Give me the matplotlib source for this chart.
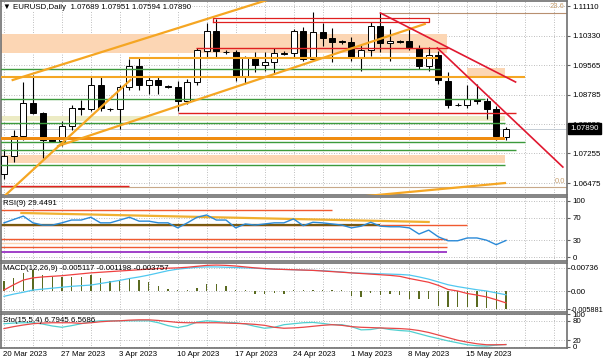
import numpy as np
import matplotlib.pyplot as plt
from matplotlib.transforms import blended_transform_factory

plt.rcParams['font.family'] = ['Liberation Sans', 'DejaVu Sans']
plt.rcParams['font.size'] = 5.7

# daily bars (broker shows Sunday bars too), 20 Mar .. 19 May 2023
opens = [1.0672, 1.0719, 1.0770, 1.0857, 1.0830, 1.0762, 1.0758, 1.0798, 1.0844, 1.0841,
         1.0905, 1.0842, 1.0840, 1.0900, 1.0955, 1.0905, 1.0918, 1.0901, 1.0900, 1.0862,
         1.0913, 1.0993, 1.1046, 1.0991, 1.0990, 1.0926, 1.0974, 1.0956, 1.0964, 1.0986,
         1.0987, 1.1046, 1.0973, 1.1043, 1.1028, 1.1019, 1.1016, 1.0975, 1.0997, 1.1059,
         1.1013, 1.1020, 1.1020, 1.1000, 1.0955, 1.0983, 1.0915, 1.0852, 1.0853, 1.0868,
         1.0862, 1.0842, 1.07689]
highs = [1.0737, 1.0787, 1.0913, 1.0930, 1.0834, 1.0766, 1.0810, 1.0852, 1.0866, 1.0926,
         1.0926, 1.0845, 1.0905, 1.0973, 1.0976, 1.0928, 1.0924, 1.0904, 1.0915, 1.0920,
         1.1002, 1.1067, 1.1076, 1.0995, 1.0996, 1.0980, 1.0990, 1.0990, 1.1000, 1.0992,
         1.1050, 1.1055, 1.1095, 1.1067, 1.1054, 1.1022, 1.1030, 1.1010, 1.1069, 1.1092,
         1.1051, 1.1023, 1.1056, 1.1010, 1.1004, 1.0993, 1.0937, 1.0856, 1.0904, 1.0906,
         1.0870, 1.0850, 1.07951]
lows = [1.0657, 1.0702, 1.0761, 1.0829, 1.0714, 1.0755, 1.0745, 1.0786, 1.0825, 1.0836,
        1.0835, 1.0836, 1.0788, 1.0890, 1.0892, 1.0880, 1.0880, 1.0896, 1.0836, 1.0855,
        1.0905, 1.0978, 1.0978, 1.0985, 1.0914, 1.0910, 1.0938, 1.0942, 1.0936, 1.0982,
        1.0975, 1.0966, 1.0966, 1.1005, 1.0965, 1.1012, 1.0967, 1.0942, 1.0980, 1.0990,
        1.0966, 1.1015, 1.0996, 1.0945, 1.0940, 1.0906, 1.0845, 1.0848, 1.0845, 1.0855,
        1.0815, 1.0760, 1.07594]
closes = [1.0719, 1.0770, 1.0857, 1.0830, 1.0760, 1.0758, 1.0798, 1.0844, 1.0841, 1.0905,
          1.0845, 1.0840, 1.0900, 1.0955, 1.0905, 1.0918, 1.0903, 1.0900, 1.0862, 1.0913,
          1.0997, 1.1046, 1.0993, 1.0990, 1.0926, 1.0974, 1.0956, 1.0964, 1.0987, 1.0988,
          1.1046, 1.0973, 1.1043, 1.1028, 1.1017, 1.1016, 1.0975, 1.0997, 1.1059, 1.1013,
          1.1020, 1.1018, 1.1000, 1.0955, 1.0983, 1.0918, 1.0852, 1.0853, 1.0868, 1.0862,
          1.0842, 1.0770, 1.07890]

rsi = [61, 67, 73, 61, 57, 57, 61, 66, 66, 71, 61, 61, 66, 71, 64, 64, 61, 61, 52, 61,
       71, 75, 66, 66, 52, 59, 57, 59, 61, 61, 68, 56, 62, 61, 59, 57, 52, 55, 62, 55,
       54, 54, 52, 41, 48, 36, 29, 29, 34, 34, 30, 22, 29.4491]

macd_hist = [0.0032, 0.0042, 0.0058, 0.0067, 0.0051, 0.0045, 0.0045, 0.0045, 0.0045, 0.0051,
             0.0042, 0.0032, 0.0035, 0.0042, 0.0035, 0.0029, 0.0016, 0.0006, 0.0002, 0.0004,
             0.0010, 0.0021, 0.0021, 0.0016, 0.0003, 0.0002, -0.0009, -0.0008, -0.0006, -0.0010,
             0.0003, 0.0003, 0.0003, 0.0003, 0.0003, 0.0003, -0.0016, -0.0018, -0.0005, -0.0012,
             -0.0010, -0.0012, -0.0024, -0.0027, -0.0027, -0.0048, -0.0050, -0.0050, -0.0050, -0.0050,
             -0.0053, -0.0056, -0.0059]
macd_fast = [-0.0017, -0.0010, -0.0004, 0.0003, 0.0006, 0.0009, 0.0012, 0.0015, 0.0017, 0.0019,
             0.0024, 0.0029, 0.0034, 0.0040, 0.0045, 0.0051, 0.0058, 0.0065, 0.0070, 0.0073,
             0.0076, 0.0077, 0.0077, 0.0076, 0.0075, 0.0074, 0.0073, 0.0071, 0.0070, 0.0069,
             0.0068, 0.0067, 0.0066, 0.0065, 0.0063, 0.0061, 0.0058, 0.0057, 0.0056, 0.0055,
             0.0054, 0.0053, 0.0051, 0.0045, 0.0038, 0.0029, 0.0020, 0.0014, 0.0009, 0.0004,
             0.0000, -0.0006, -0.0012]
macd_slow = [0.0003, 0.0020, 0.0035, 0.0042, 0.0045, 0.0047, 0.0049, 0.0052, 0.0055, 0.0058,
             0.0060, 0.0062, 0.0064, 0.0066, 0.0068, 0.0070, 0.0072, 0.0073, 0.0074, 0.0076,
             0.0079, 0.0082, 0.0083, 0.0082, 0.0080, 0.0077, 0.0074, 0.0072, 0.0070, 0.0069,
             0.0068, 0.0067, 0.0066, 0.0064, 0.0062, 0.0060, 0.0058, 0.0056, 0.0054, 0.0052,
             0.0050, 0.0047, 0.0040, 0.0034, 0.0028, 0.0018, 0.0005, 0.0000, -0.0008, -0.0013,
             -0.0019, -0.0028, -0.0038]

sto_main = [71, 73, 74, 74, 70, 64, 60, 65, 71, 77, 80, 80, 80, 80, 80, 80, 74, 65, 59, 65,
            76, 80, 78, 75, 74, 70, 63, 57, 60, 68, 71, 74, 75, 72, 68, 68, 62, 52, 53, 58,
            53, 50, 48, 40, 32, 25, 18, 12, 6, 3, 2, 5, 6.7945]
sto_sig = [56, 62, 67, 71, 73, 74, 74, 74, 72, 74, 77, 79, 80, 82, 83, 83, 81, 78, 75, 74,
           74, 74, 74, 73, 72, 71, 69, 66, 60, 57, 58, 60, 63, 66, 68, 66, 62, 60, 59, 58,
           57, 56, 54, 50, 44, 36, 28, 20, 14, 9, 6, 6, 6.5686]

week_labels = ['20 Mar 2023', '27 Mar 2023', '3 Apr 2023', '10 Apr 2023', '17 Apr 2023',
               '24 Apr 2023', '1 May 2023', '8 May 2023', '15 May 2023']
week_bars = [0, 6, 12, 18, 24, 30, 36, 42, 48]

price_ticks = [1.06475, 1.07255, 1.08020, 1.08785, 1.09565, 1.10330, 1.11110]

# chart objects (price levels / trend lines, in bar index and price)
green_levels = [1.09460, 1.08674, 1.08046, 1.07548, 1.07339, 1.06946]
green_ends = [45.2, 49.8, 51.9, 54.0, 53.0, 51.9]
orange_levels = [1.09748, 1.09250]
orange_spans = [(12.9, 45.0), (-0.4, 54.0)]
red_levels = [1.10010, 1.08308, 1.06396]
red_spans = [(19.9, 46.0), (18.0, 53.0), (-0.4, 12.9)]
peach_bands = [(1.09879, 1.10377, -0.4, 45.9), (1.09277, 1.09486, 48.0, 51.9),
               (1.06998, 1.07208, -0.4, 51.9)]
orange_trends = [((0.9, 1.09172), (28.0, 1.11324)), ((-0.4, 1.06029), (13.1, 1.09172)),
                 ((5.6, 1.07443), (43.6, 1.10639)), ((33.1, 1.06029), (51.9, 1.06474))]
red_trends = [((39.0, 1.10927), (53.0, 1.09120)), ((44.9, 1.10010), (57.9, 1.06893))]
last_price = 1.07890

W, H = 605, 363
fig = plt.figure(figsize=(W / 100, H / 100), dpi=100)
fig.patch.set_facecolor('white')


def panel(top, bottom):
    a = fig.add_axes([1 / W, 1 - bottom / H, 566 / W, (bottom - top) / H])
    a.set_xlim(-0.31, 58.33)
    a.set_xticks(np.arange(0, 58, 3))
    a.tick_params(axis='x', length=0, labelbottom=False)
    a.yaxis.tick_right()
    a.tick_params(axis='y', length=2, pad=2, labelsize=5.7, color='#606060')
    a.grid(True, ls=(0, (1, 2)), color='#a8a8a8', lw=0.6)
    a.set_axisbelow(True)
    for s in a.spines.values():
        s.set_color('#707070')
        s.set_linewidth(1.2)
    return a


ax = panel(1, 195)
ax_rsi = panel(197, 261)
ax_macd = panel(263, 312)
ax_sto = panel(314, 348)

n = len(closes)
idx = np.arange(n)
o = np.array(opens)
c = np.array(closes)

# --- main price panel ---
ax.set_ylim(1.06161, 1.11241)
ax.set_yticks(price_ticks)
ax.set_yticklabels(['%.5f' % p for p in price_ticks])

for lo, hi, x0, x1 in peach_bands:
    ax.fill_between([x0, x1], lo, hi, color='#fcd6b4', lw=0, zorder=1)
ax.fill_between([-0.4, 51.9], 1.08098, 1.08229, color='#ecebc4', lw=0, zorder=1)

ax.vlines(idx, lows, highs, color='black', lw=0.8, zorder=3)
body_lo = np.minimum(o, c)
body_h = np.maximum(np.abs(c - o), 0.00006)
faces = ['white' if cc >= oo else 'black' for oo, cc in zip(o, c)]
ax.bar(idx, body_h, bottom=body_lo, width=0.62, color=faces, edgecolor='black',
       linewidth=0.7, zorder=4)

ax.fill_between([-0.4, 51.9], 1.07601, 1.07679, color='#f08c10', lw=0, zorder=5)
for lvl, end in zip(green_levels, green_ends):
    ax.hlines(lvl, -0.4, end, color='#3c9a3c', lw=1.0, zorder=5)
for lvl, (x0, x1) in zip(orange_levels, orange_spans):
    ax.hlines(lvl, x0, x1, color='#f5a623', lw=1.5, zorder=5)
for lvl, (x0, x1) in zip(red_levels, red_spans):
    ax.hlines(lvl, x0, x1, color='#e02020', lw=1.0, zorder=5)
ax.plot([21.7, 44.0, 44.0, 21.7, 21.7], [1.10691, 1.10691, 1.10796, 1.10796, 1.10691],
        color='#e02020', lw=0.9, zorder=5)
for (x0, y0), (x1, y1) in orange_trends:
    ax.plot([x0, x1], [y0, y1], color='#f5a623', lw=1.6, zorder=5)
for (x0, y0), (x1, y1) in red_trends:
    ax.plot([x0, x1], [y0, y1], color='#e01830', lw=1.2, zorder=5)

ax.hlines(1.06370, -0.4, 58.4, color='#c8a888', lw=0.8, zorder=2)
ax.hlines(1.10927, 39.0, 58.4, color='#b89070', lw=0.8, zorder=2)
ax.text(58.1, 1.11000, '23.6', color='#c8a070', ha='right', va='bottom', fontsize=5.5)
ax.text(58.1, 1.06420, '0.0', color='#c8a070', ha='right', va='bottom', fontsize=5.5)
ax.hlines(last_price, -0.4, 58.4, color='#c4ccd4', lw=0.7, zorder=2)

tr = blended_transform_factory(ax.transAxes, ax.transData)
ax.text(1.006, last_price, '%.5f' % last_price, transform=tr, color='white', fontsize=5.7,
        va='center', ha='left', zorder=10,
        bbox=dict(boxstyle='square,pad=0.25', fc='black', ec='black'))
ax.text(0.004, 0.965, '\u25bc EURUSD,Daily  %.5f %.5f %.5f %.5f' % (opens[-1], highs[-1], lows[-1], closes[-1]),
        transform=ax.transAxes, va='center', ha='left', fontsize=5.7, zorder=10,
        bbox=dict(fc='white', ec='none', pad=0.5))

# --- RSI ---
ax_rsi.set_ylim(-7.1, 107.1)
ax_rsi.set_yticks([0, 30, 70, 100])
ax_rsi.hlines(83.9, -0.4, 34.0, color='#f05a30', lw=1.0)
ax_rsi.plot([1.8, 44.0], [78.6, 62.5], color='#f0b030', lw=1.6)
ax_rsi.hlines(57.1, -0.4, 48.0, color='#f05a30', lw=1.0)
ax_rsi.hlines(57.1, -0.4, 39.0, color='#7a5a10', lw=1.6)
ax_rsi.hlines(32.1, -0.4, 45.9, color='#f05a30', lw=1.0)
ax_rsi.hlines(25.0, -0.4, 45.9, color='#fcd6b4', lw=1.0)
ax_rsi.hlines(17.9, -0.4, 45.9, color='#f05a30', lw=1.0)
ax_rsi.hlines(8.9, -0.4, 45.9, color='#a040c8', lw=1.4)
ax_rsi.plot(idx, rsi, color='#2a8ad8', lw=1.0, zorder=4)
ax_rsi.text(0.004, 0.9, 'RSI(9) %.4f' % rsi[-1], transform=ax_rsi.transAxes,
            va='center', ha='left', fontsize=5.7)

# --- MACD ---
ax_macd.set_ylim(-0.00672, 0.00896)
ax_macd.set_yticks([-0.005881, 0.0, 0.00736])
ax_macd.set_yticklabels(['-0.005881', '0.00', '0.00736'])
ax_macd.tick_params(axis='y', pad=1)
ax_macd.get_yticklabels()[0].set_fontsize(5.2)
ax_macd.bar(idx, macd_hist, width=0.14, color='#5a6a20', zorder=3)
ax_macd.plot(idx, macd_fast, color='#50c8f0', lw=0.9, zorder=4)
ax_macd.plot(idx, macd_slow, color='#f04040', lw=0.9, zorder=4)
ax_macd.text(0.004, 0.88, 'MACD(12,26,9) -0.005117 -0.001198 -0.003757', transform=ax_macd.transAxes,
             va='center', ha='left', fontsize=5.7, zorder=5)

# --- Stochastic ---
ax_sto.set_ylim(-4, 101)
ax_sto.set_yticks([0, 20, 80, 100])
ax_sto.plot(idx, sto_main, color='#50d0d0', lw=0.9, zorder=4)
ax_sto.plot(idx, sto_sig, color='#e84848', lw=0.9, zorder=4)
ax_sto.text(0.004, 0.82, 'Sto(15,5,4) %.4f %.4f' % (sto_main[-1], sto_sig[-1]), transform=ax_sto.transAxes,
            va='center', ha='left', fontsize=5.7, zorder=5)

trd = blended_transform_factory(ax_sto.transData, ax_sto.transAxes)
for b, lab in zip(week_bars, week_labels):
    ax_sto.text(b - 0.1, -0.2, lab, transform=trd, ha='left', va='center', fontsize=5.7)

fig.savefig('out.png', dpi=100)
